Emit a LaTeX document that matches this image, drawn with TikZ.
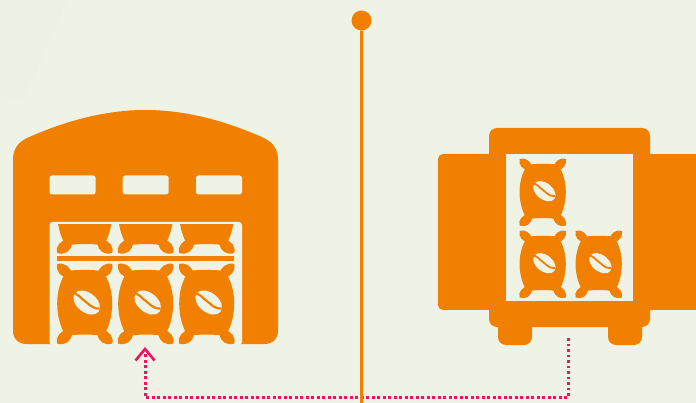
\documentclass[tikz,border=0pt]{standalone}
\definecolor{bgc}{HTML}{EFF3E6}
\definecolor{bgd}{HTML}{EDF1E4}
\definecolor{org}{HTML}{F28000}
\definecolor{pnk}{HTML}{E8175D}
\newcommand{\sackscale}{1}
\newcommand{\sackshape}{%
    \fill[org] (-18,-32.5) .. controls (-6,-34) and (6,-34) .. (18,-32.5)
      .. controls (24.5,-23) and (27.5,-12) .. (27.5,0)
      .. controls (27.5,12) and (24.5,23) .. (19,32.5)
      .. controls (6,30.5) and (-6,30.5) .. (-19,32.5)
      .. controls (-24.5,23) and (-27.5,12) .. (-27.5,0)
      .. controls (-27.5,-12) and (-24.5,-23) .. (-18,-32.5) -- cycle;
    \foreach \sx in {-1,1}{
      \fill[org] (\sx*27.5,-39.5) .. controls (\sx*29,-32) and (\sx*24,-27) .. (\sx*18,-26)
        -- (\sx*13,-30) .. controls (\sx*14,-36) and (\sx*20,-41.5) .. (\sx*27.5,-39.5) -- cycle;
      \fill[org] (\sx*27.5,40) .. controls (\sx*20,42.5) and (\sx*14,38) .. (\sx*12.5,31)
        -- (\sx*18,26) .. controls (\sx*24,28) and (\sx*29.5,33) .. (\sx*27.5,40) -- cycle;
    }%
}
\tikzset{
  sackbody/.pic={\sackshape},
  sackbag/.pic={
    \sackshape
    \fill[bgc,rotate=-38] (1,-2) ellipse [x radius=15,y radius=9.8];
    \draw[org,line width=2.2pt*\sackscale] (-14,-10.5) .. controls (-6,-10.5) and (-4,-5) .. (0,-2.5)
      .. controls (4,0) and (7,5.5) .. (15,5);
  }
}
\begin{document}
\begin{tikzpicture}[x=1pt,y=-1pt]
\useasboundingbox (0,0) rectangle (696,403);
\clip (0,0) rectangle (696,403);
\fill[bgc] (0,0) rectangle (696,403);
\fill[bgd] (0,0) -- (67,0) -- (23,102) -- (0,93) -- cycle;

% warehouse
\fill[org] (13,160)
  .. controls (13,150) and (17,143) .. (27,138)
  .. controls (65,121) and (105,110) .. (145.5,110)
  .. controls (186,110) and (226,121) .. (264,138)
  .. controls (274,143) and (278,150) .. (278,160)
  -- (278,330) .. controls (278,339) and (273,344) .. (264,344)
  -- (27,344) .. controls (18,344) and (13,339) .. (13,330) -- cycle;
\fill[bgc,rounded corners=3pt] (49.5,345) -- (49.5,222) -- (242,222) -- (242,345) -- cycle;
\foreach \wx in {49.5,122.7,196}
  \fill[bgc,rounded corners=2.5pt] (\wx,175.5) rectangle ++(46,19);
\fill[org] (56.5,256) rectangle (233.5,261.5);
\foreach \cx in {84.7,145.7,206.7}{
  \pic at (\cx,303.5) {sackbag};
  \begin{scope}
    \clip (40,225) rectangle (250,256);
    \pic at (\cx,213) {sackbody};
  \end{scope}
}

% vehicle
\fill[org,rounded corners=8pt] (489,128) rectangle (650,327);
\fill[org,rounded corners=5pt] (438,154) rectangle (520,310);
\fill[org] (640,154) rectangle (700,310);
\fill[org,rounded corners=8pt] (498,310) rectangle (532,345);
\fill[org,rounded corners=8pt] (608,310) rectangle (642,345);
\fill[bgc] (506,154) rectangle (633,301);
\renewcommand{\sackscale}{0.84}
\pic[scale=0.84] at (542.7,192) {sackbag};
\pic[scale=0.84] at (542.7,264) {sackbag};
\pic[scale=0.84] at (598.7,264) {sackbag};

% connector
\coordinate (src) at (568.5,338);
\coordinate (tip) at (145,349);
\draw[pnk,line width=3pt,dash pattern=on 2.8pt off 2.7pt] (src) |- (145,397) -- (145,353);
\draw[pnk,line width=2.6pt] (135.5,360.5) -- (tip) -- (154.5,360.5);
\node[circle,fill=org,inner sep=0pt,minimum size=20pt] (dot) at (361.5,20.5) {};
\coordinate (axisend) at (361.7,403);
\draw[org,line width=3pt] (dot) -- (axisend);
\end{tikzpicture}
\end{document}
